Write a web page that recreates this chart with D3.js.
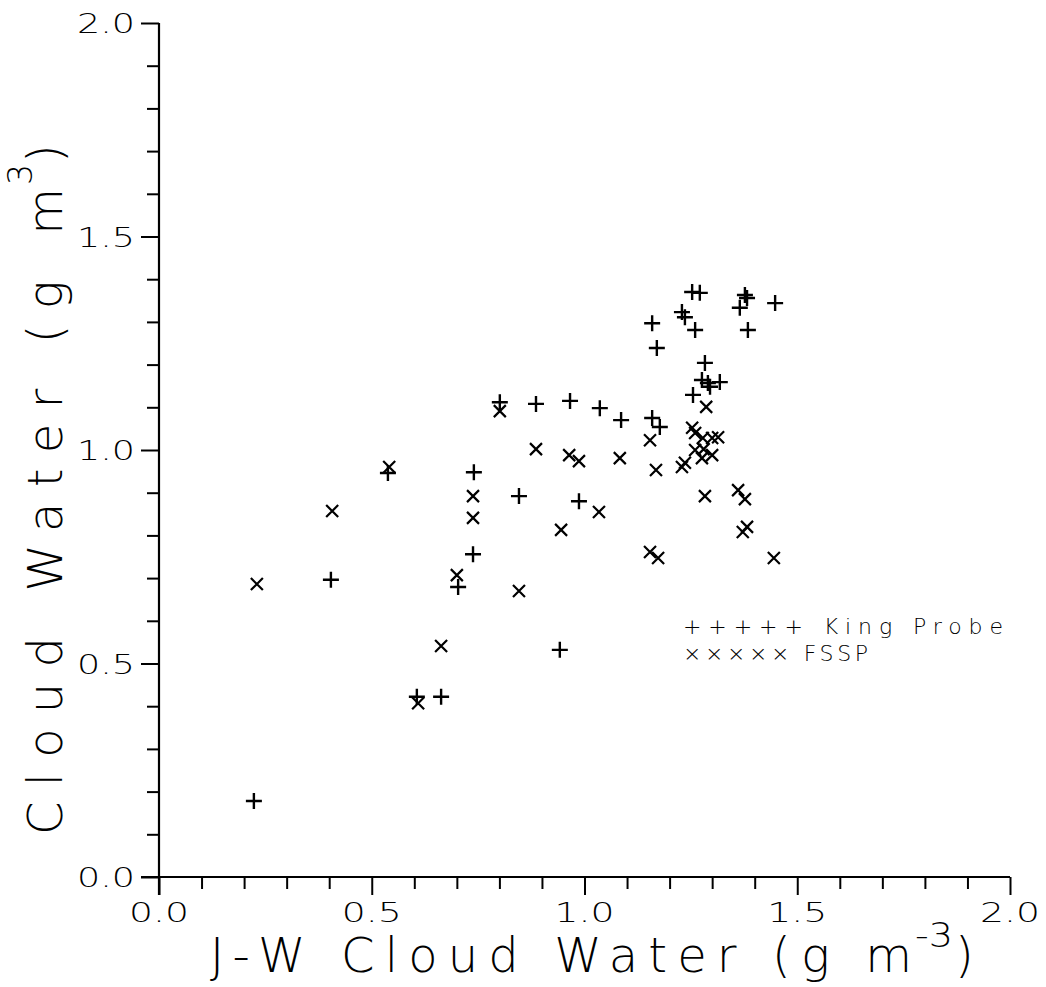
<!DOCTYPE html>
<html>
<head>
<meta charset="utf-8">
<script src="https://cdn.jsdelivr.net/npm/d3@7"></script>
<style>
  html, body { margin: 0; padding: 0; background: #fff; }
  svg { display: block; }
  text { font-family: "DejaVu Sans", sans-serif; font-weight: 200; fill: #000; }
</style>
</head>
<body>
<svg id="chart" width="1046" height="987"></svg>
<script>
// King Probe (+) : [J-W cloud water, probe cloud water]
const kingX = [0.223,0.404,0.538,0.606,0.663,0.703,0.738,0.740,0.801,0.846,0.886,0.942,0.966,0.987,1.036,1.086,1.159,1.177,1.159,1.170,1.229,1.236,1.253,1.271,1.260,1.283,1.276,1.290,1.318,1.295,1.255,1.377,1.365,1.384,1.448,1.382];
const kingY = [0.178,0.696,0.946,0.422,0.422,0.679,0.756,0.948,1.112,0.892,1.108,0.532,1.115,0.880,1.098,1.070,1.075,1.054,1.297,1.239,1.323,1.311,1.370,1.368,1.281,1.204,1.164,1.157,1.159,1.148,1.129,1.363,1.333,1.281,1.344,1.356];
// FSSP (x)
const fsspX = [0.230,0.407,0.541,0.609,0.663,0.700,0.738,0.738,0.801,0.846,0.886,0.945,0.964,0.987,1.034,1.083,1.154,1.168,1.154,1.173,1.229,1.236,1.253,1.260,1.286,1.278,1.300,1.314,1.260,1.280,1.300,1.276,1.283,1.361,1.377,1.372,1.382,1.445];
const fsspY = [0.686,0.857,0.960,0.407,0.541,0.707,0.841,0.892,1.091,0.670,1.002,0.813,0.988,0.974,0.855,0.981,1.023,0.953,0.761,0.747,0.960,0.970,1.052,1.040,1.101,1.028,1.028,1.030,1.000,1.002,0.988,0.981,0.892,0.906,0.885,0.808,0.820,0.747];

const xTicks = [0.0, 0.5, 1.0, 1.5, 2.0];
const yTicks = [0.0, 0.5, 1.0, 1.5, 2.0];
const tickLabels = ["0.0", "0.5", "1.0", "1.5", "2.0"];
const legendLabels = ["+++++ King Probe", "××××× FSSP"];

const svg = d3.select("#chart");
const x = d3.scaleLinear().domain([0, 2]).range([159, 1010]);
const y = d3.scaleLinear().domain([0, 2]).range([877, 23]);

const minor = d3.range(0, 21).map(i => i / 10);

// axes via d3 axis generators
const xAxis = d3.axisBottom(x).tickValues(minor).tickSize(12).tickFormat("");
const yAxis = d3.axisLeft(y).tickValues(minor).tickSize(12).tickFormat("");

const gx = svg.append("g").attr("transform", `translate(0,${y(0)})`).call(xAxis);
const gy = svg.append("g").attr("transform", `translate(${x(0)},0)`).call(yAxis);
[gx, gy].forEach(g => {
  g.select(".domain").attr("stroke", "#000").attr("stroke-width", 2.2);
  g.selectAll(".tick line").attr("stroke", "#000").attr("stroke-width", 2);
});
gx.selectAll(".tick line").attr("y2", d => (Math.round(d * 10) % 5 === 0) ? 18 : 12);
gy.selectAll(".tick line").attr("x2", d => (Math.round(d * 10) % 5 === 0) ? -18 : -12);
gx.select(".domain").attr("d", `M${x(0)-18},0H${x(2)}`);
gy.select(".domain").attr("d", `M0,${y(0)+18}V${y(2)}`);

// tick labels
svg.append("g").selectAll("text").data(xTicks).join("text")
  .attr("x", d => x(d)).attr("y", 922)
  .attr("text-anchor", "middle")
  .attr("font-size", 27)
  .attr("textLength", 60).attr("lengthAdjust", "spacingAndGlyphs")
  .text((d, i) => tickLabels[i]);

svg.append("g").selectAll("text").data(yTicks).join("text")
  .attr("x", 135).attr("y", d => y(d) + 10)
  .attr("text-anchor", "end")
  .attr("font-size", 27)
  .attr("textLength", 58).attr("lengthAdjust", "spacingAndGlyphs")
  .text((d, i) => tickLabels[i]);

// x axis title
svg.append("text").attr("x", 210).attr("y", 972).attr("font-size", 48)
  .attr("textLength", 702).attr("lengthAdjust", "spacing")
  .text("J-W Cloud Water (g m");
svg.append("text").attr("x", 915).attr("y", 947).attr("font-size", 33)
  .attr("textLength", 38).attr("lengthAdjust", "spacingAndGlyphs")
  .text("-3");
svg.append("text").attr("x", 955).attr("y", 972).attr("font-size", 48)
  .text(")");

// y axis title (rotated)
const yt = svg.append("g").attr("transform", "translate(62,835) rotate(-90)");
yt.append("text").attr("x", 0).attr("y", 0).attr("font-size", 48)
  .attr("textLength", 647).attr("lengthAdjust", "spacing")
  .text("Cloud Water (g m");
yt.append("text").attr("x", 650).attr("y", -30).attr("font-size", 33)
  .text("3");
yt.append("text").attr("x", 672).attr("y", 0).attr("font-size", 48)
  .text(")");

// markers
const plusR = 8, crossR = 6;
const kingData = kingX.map((v, i) => [v, kingY[i]]);
const fsspData = fsspX.map((v, i) => [v, fsspY[i]]);

svg.append("g").selectAll("path").data(kingData).join("path")
  .attr("d", d => {
    const cx = x(d[0]), cy = y(d[1]);
    return `M${cx - plusR},${cy}H${cx + plusR}M${cx},${cy - plusR}V${cy + plusR}`;
  })
  .attr("stroke", "#000").attr("stroke-width", 2.4).attr("fill", "none");

svg.append("g").selectAll("path").data(fsspData).join("path")
  .attr("d", d => {
    const cx = x(d[0]), cy = y(d[1]);
    return `M${cx - crossR},${cy - crossR}L${cx + crossR},${cy + crossR}M${cx - crossR},${cy + crossR}L${cx + crossR},${cy - crossR}`;
  })
  .attr("stroke", "#000").attr("stroke-width", 2.2).attr("fill", "none");

// legend
const legendLen = [320, 185];
const legendBase = [634, 661];
svg.append("g").selectAll("text").data(legendLabels).join("text")
  .attr("x", 683).attr("y", (d, i) => legendBase[i])
  .attr("font-size", 22)
  .attr("font-weight", 300)
  .attr("textLength", (d, i) => legendLen[i]).attr("lengthAdjust", "spacing")
  .text(d => d);
</script>
</body>
</html>
